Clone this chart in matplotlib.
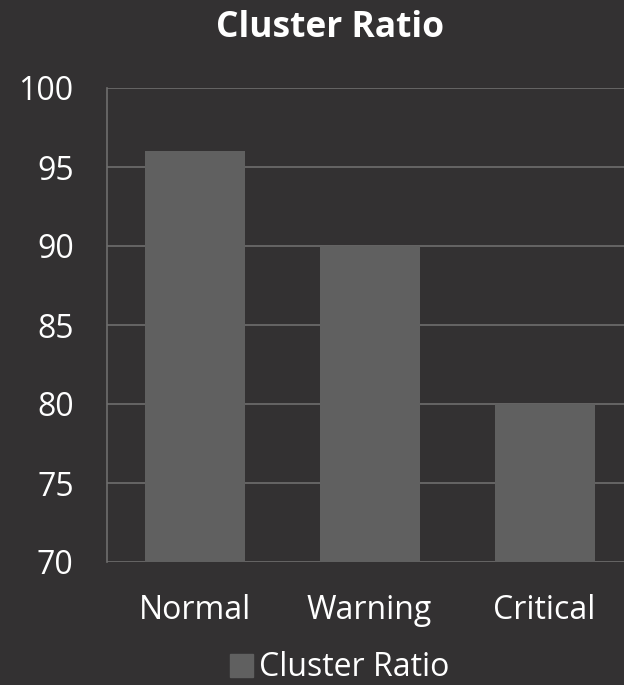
import matplotlib
matplotlib.use("Agg")
import matplotlib.pyplot as plt
from matplotlib.patches import Patch

categories = ["Normal", "Warning", "Critical"]
values = [96, 90, 80]
yticks = [70, 75, 80, 85, 90, 95, 100]

bg = "#333132"
bar_color = "#606060"
grid_color = "#6e6e6e"

plt.rcParams['font.family'] = ['Open Sans', 'DejaVu Sans']

fig = plt.figure(figsize=(6.24, 6.85), dpi=100, facecolor=bg)
ax = fig.add_axes([107 / 624, 1 - 562 / 685, 525 / 624, 474 / 685])
ax.set_facecolor(bg)

ax.bar(range(len(categories)), values, width=100 / 175, color=bar_color, zorder=2)
ax.set_xlim(-0.5, len(categories) - 0.5)
ax.set_ylim(70, 100)
ax.set_yticks(yticks)
ax.set_xticks(range(len(categories)))
ax.set_xticklabels(categories)

ax.yaxis.grid(True, color=grid_color, linewidth=1.2, zorder=1)
ax.set_axisbelow(True)
for side in ["top", "right", "bottom"]:
    ax.spines[side].set_visible(False)
ax.spines["left"].set_color(grid_color)
ax.spines["left"].set_linewidth(1.2)
ax.tick_params(axis="both", length=0, colors="white", labelsize=23)
ax.tick_params(axis="y", pad=24)
ax.tick_params(axis="x", pad=23)

fig.text(330 / 624, 1 - 28 / 685, "Cluster Ratio", color="white", fontsize=25.5,
         fontweight="bold", ha="center", va="center")

leg = fig.legend(handles=[Patch(color=bar_color, label="Cluster Ratio")],
                 loc="center", bbox_to_anchor=(340 / 624, 1 - 668 / 685),
                 frameon=False, fontsize=23, labelcolor="white",
                 handlelength=0.7, handleheight=0.7, handletextpad=0.2)

fig.savefig("out.png", dpi=100, facecolor=bg)
